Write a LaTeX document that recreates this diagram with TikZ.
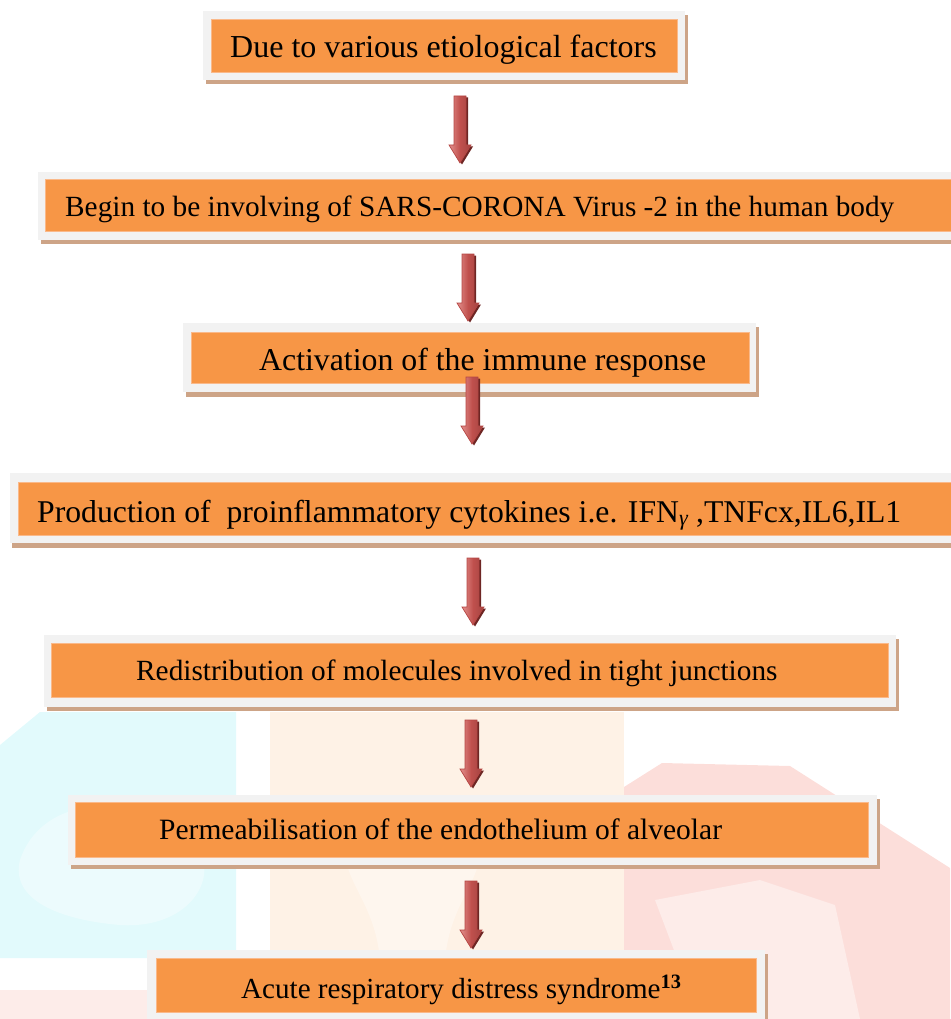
\documentclass[tikz,border=0pt]{standalone}
\usepackage{fontspec}
\setmainfont{Liberation Serif}
\usetikzlibrary{fit}
\definecolor{boxorange}{HTML}{F79646}
\definecolor{boxedge}{HTML}{FAB98A}
\definecolor{framegray}{HTML}{F2F2F2}
\definecolor{shadowtan}{HTML}{CDA487}
\definecolor{arrowmain}{HTML}{C0504D}
\definecolor{arrowlight}{HTML}{E3908D}
\definecolor{arrowdark}{HTML}{6E2624}
\definecolor{arrowline}{HTML}{B54643}
\definecolor{wmcyan}{HTML}{E2FAFC}
\definecolor{wmpeach}{HTML}{FEF2E6}
\definecolor{wmpink}{HTML}{FCDEDA}
\definecolor{wmpinklight}{HTML}{FDECE9}
\newcommand{\tsz}[1]{\fontsize{#1}{#1}\selectfont}
\tikzset{
  orangebox/.style={fill=boxorange, draw=boxedge, line width=0.8pt, inner sep=0pt},
  frame/.style={fill=framegray},
  shadow/.style={fill=shadowtan},
  label/.style={anchor=base west, inner sep=0pt, text=black},
  fatarrow/.pic={
    \fill[arrowdark] (-4,1.5) -- (8,1.5) -- (8,50.5) -- (13,50.5) -- (2,68.5) -- (-9,50.5) -- (-4,50.5) -- cycle;
    \shade[left color=arrowlight, right color=arrowmain!85!black, middle color=arrowmain]
      (-6,0) -- (6,0) -- (6,49) -- (11,49) -- (0,67) -- (-11,49) -- (-6,49) -- cycle;
    \draw[arrowline, line width=0.7pt, line join=miter]
      (-6,0) -- (6,0) -- (6,49) -- (11,49) -- (0,67) -- (-11,49) -- (-6,49) -- cycle;
  }
}
\begin{document}
\begin{tikzpicture}[x=1pt, y=-1pt]
\useasboundingbox (0,0) rectangle (950,1019);
% faint watermark
\fill[wmcyan] (0,745) -- (40,712) -- (236,712) -- (236,958) -- (0,958) -- cycle;
\fill[white, opacity=0.35] (20,860) .. controls (40,800) and (120,790) .. (180,830) .. controls (230,860) and (200,930) .. (120,925) .. controls (60,920) and (10,900) .. (20,860) -- cycle;
\fill[wmpeach] (270,712) rectangle (624,1019);
\fill[white, opacity=0.35] (345,840) .. controls (350,790) and (470,790) .. (480,840) .. controls (485,880) and (450,900) .. (445,960) -- (380,960) .. controls (375,900) and (340,880) .. (345,840) -- cycle;
\fill[wmpink] (624,787) -- (662,763) -- (790,766) -- (950,868) -- (950,1019) -- (624,1019) -- cycle;
\fill[wmpinklight] (655,900) -- (760,880) -- (835,905) -- (860,1019) -- (700,1019) -- cycle;
\fill[wmpinklight] (0,990) rectangle (150,1019);

% boxes: shadow, frame, orange
% B1
\fill[shadow] (206,15) rectangle (688,84);
\fill[frame] (203,11) rectangle (685,80);
\node[orangebox, fit={(211,19) (677,72)}] (b1) {};
\node[label, font=\tsz{32}] (t1) at (230,58) {Due to various etiological factors};
% B2
\fill[shadow] (41,176) rectangle (953,244);
\fill[frame] (38,172) rectangle (951,240);
\node[orangebox, fit={(45,179) (951,231)}] (b2) {};
\node[label, font=\tsz{29.3}] (t2) at (65,216) {Begin to be involving of SARS-CORONA Virus -2 in the human body};
% B3
\fill[shadow] (186,327) rectangle (759,397);
\fill[frame] (183,323) rectangle (756,392);
\node[orangebox, fit={(191,332) (749,383)}] (b3) {};
\node[label, font=\tsz{31.8}] (t3) at (259,370) {Activation of the immune response};
% B4
\fill[shadow] (12,477) rectangle (953,548);
\fill[frame] (10,473) rectangle (951,543);
\node[orangebox, fit={(18,482) (951,535)}] (b4) {};
\node[label, font=\tsz{31.7}] (t4) at (37,522) {Production of \ proinflammatory cytokines i.e. IFN\textsubscript{\itshape γ} ,TNFcx,IL6,IL1};
% B5
\fill[shadow] (47,639) rectangle (899,711);
\fill[frame] (44,635) rectangle (896,707);
\node[orangebox, fit={(51,643) (888,697)}] (b5) {};
\node[label, font=\tsz{29.3}] (t5) at (136,680) {Redistribution of molecules involved in tight junctions};
% B6
\fill[shadow] (71,799) rectangle (880,869);
\fill[frame] (68,795) rectangle (877,865);
\node[orangebox, fit={(75,802) (868,857)}] (b6) {};
\node[label, font=\tsz{29.5}] (t6) at (159,839) {Permeabilisation of the endothelium of alveolar};
% B7
\fill[shadow] (150,954) rectangle (768,1023);
\fill[frame] (147,950) rectangle (765,1020);
\node[orangebox, fit={(156,958) (756,1012)}] (b7) {};
\node[label, font=\tsz{29.1}] (t7) at (241,998) {Acute respiratory distress syndrome\textsuperscript{\bfseries 13}};

% arrows
\coordinate (a1) at (460,96);
\coordinate (a2) at (468,254);
\coordinate (a3) at (472,377);
\coordinate (a4) at (473,558);
\coordinate (a5) at (471,720);
\coordinate (a6) at (471,881);
\foreach \a in {a1,a2,a3,a4,a5,a6} { \pic at (\a) {fatarrow}; }
\end{tikzpicture}
\end{document}
